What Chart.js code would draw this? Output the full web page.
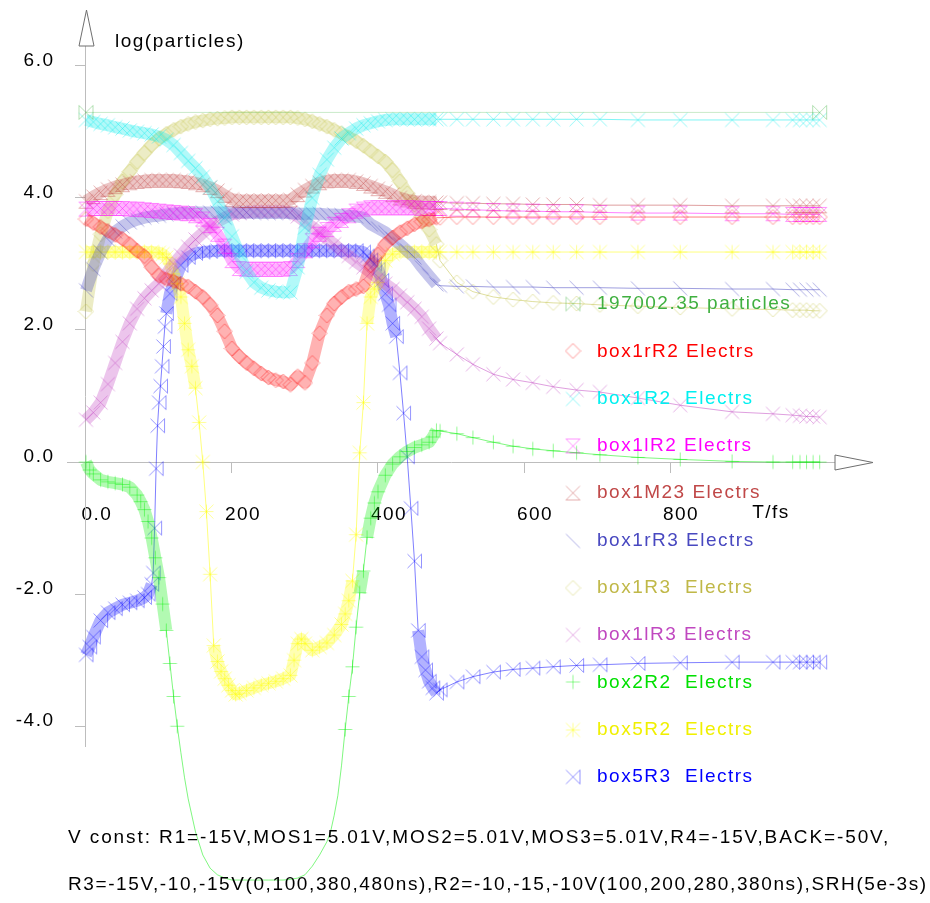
<!DOCTYPE html>
<html><head><meta charset="utf-8">
<script src="https://cdn.jsdelivr.net/npm/chart.js@4.4.1/dist/chart.umd.min.js"></script>
<style>html,body{margin:0;padding:0;background:#fff;}canvas{display:block;}</style>
</head><body>
<canvas id="c" width="930" height="903"></canvas>
<script>
// ---------------- DATA ----------------
const xTicks = [0, 200, 400, 600, 800];
const xTickLabels = ['0.0', '200', '400', '600', '800'];
const yTicks = [-4, -2, 0, 2, 4, 6];
const yTickLabels = ['-4.0', '-2.0', '0.0', '2.0', '4.0', '6.0'];
const yTitle = 'log(particles)';
const xTitle = 'T/fs';
const seriesNames = ['197002.35 particles', 'box1rR2 Electrs', 'box1R2  Electrs', 'box1lR2 Electrs',
  'box1M23 Electrs', 'box1rR3 Electrs', 'box1R3  Electrs', 'box1lR3 Electrs', 'box2R2  Electrs',
  'box5R2  Electrs', 'box5R3  Electrs'];
const note1 = 'V const: R1=-15V,MOS1=5.01V,MOS2=5.01V,MOS3=5.01V,R4=-15V,BACK=-50V,';
const note2 = 'R3=-15V,-10,-15V(0,100,380,480ns),R2=-10,-15,-10V(100,200,280,380ns),SRH(5e-3s)';

const tBase = [0,10,20,30,40,50,60,70,80,90,100,110,120,130,140,150,160,170,180,190,200,210,220,230,240,
  250,260,270,280,290,300,310,320,330,340,350,360,370,380,390,400,410,420,430,440,450,460,470,480];
const tTail = [485,508,530,558,585,612,640,672,704,756,814,885,941,968,978,987,996,1005];

const tTotal = [0, 1005];
const vTotal = [5.294, 5.294];

const vBox1rR2 = [3.68,3.62,3.56,3.5,3.44,3.38,3.3,3.2,3.12,2.95,
  2.82,2.77,2.74,2.7,2.66,2.58,2.5,2.38,2.22,1.98,
  1.72,1.6,1.5,1.42,1.34,1.28,1.24,1.22,1.17,1.3,
  1.2,1.5,1.95,2.22,2.4,2.5,2.58,2.62,2.66,2.98,
  3.14,3.3,3.4,3.48,3.54,3.6,3.64,3.67,3.7,
  3.7,3.71,3.71,3.71,3.71,3.71,3.71,3.71,3.71,3.71,3.71,3.71,3.71,3.71,3.71,3.71,3.71,3.71];

const vBox1R2 = [5.18,5.15,5.12,5.1,5.07,5.05,5.02,5.0,4.98,4.96,
  4.93,4.88,4.8,4.68,4.56,4.45,4.32,4.16,3.95,3.7,
  3.42,3.15,2.88,2.72,2.64,2.6,2.58,2.57,2.57,2.95,
  3.55,4.0,4.35,4.58,4.76,4.9,4.98,5.05,5.1,5.13,
  5.16,5.18,5.19,5.19,5.19,5.19,5.19,5.19,5.19,
  5.19,5.19,5.19,5.19,5.19,5.19,5.19,5.19,5.19,5.18,5.18,5.18,5.18,5.18,5.18,5.18,5.18,5.18];

const vBox1lR2 = [3.83,3.84,3.84,3.84,3.84,3.84,3.83,3.83,3.82,3.81,
  3.8,3.79,3.78,3.77,3.76,3.73,3.68,3.58,3.45,3.27,
  3.05,2.93,2.92,2.92,2.92,2.92,2.92,2.92,2.93,3.05,
  3.2,3.35,3.45,3.52,3.6,3.66,3.73,3.8,3.83,3.85,
  3.85,3.85,3.85,3.85,3.85,3.85,3.84,3.84,3.84,
  3.84,3.83,3.82,3.81,3.8,3.8,3.79,3.79,3.78,3.77,3.77,3.76,3.76,3.75,3.75,3.75,3.75,3.75];

const vBox1M23 = [3.95,4.02,4.08,4.13,4.17,4.2,4.23,4.25,4.26,4.27,
  4.27,4.27,4.27,4.26,4.25,4.23,4.2,4.16,4.11,4.04,
  3.98,3.96,3.96,3.96,3.96,3.96,3.96,3.96,3.97,4.05,
  4.12,4.18,4.23,4.26,4.27,4.27,4.27,4.25,4.22,4.18,
  4.14,4.1,4.05,4.0,3.97,3.95,3.94,3.94,3.93,
  3.93,3.92,3.92,3.91,3.91,3.9,3.9,3.9,3.89,3.89,3.89,3.88,3.88,3.88,3.88,3.88,3.88,3.88];

const vBox1rR3 = [2.6,2.92,3.18,3.37,3.49,3.57,3.63,3.67,3.7,3.72,
  3.73,3.75,3.76,3.77,3.77,3.78,3.78,3.78,3.78,3.78,
  3.78,3.78,3.78,3.77,3.77,3.77,3.77,3.77,3.77,3.76,
  3.76,3.76,3.76,3.75,3.75,3.74,3.73,3.72,3.7,3.6,
  3.54,3.48,3.38,3.3,3.2,3.1,2.95,2.82,2.69,
  2.67,2.66,2.66,2.65,2.65,2.65,2.64,2.64,2.64,2.63,2.63,2.62,2.62,2.61,2.61,2.61,2.61,2.61];

const vBox1R3 = [2.28,3.0,3.45,3.8,4.05,4.25,4.4,4.55,4.68,4.8,
  4.9,4.97,5.03,5.08,5.12,5.15,5.17,5.19,5.2,5.21,
  5.22,5.22,5.22,5.22,5.22,5.22,5.22,5.22,5.22,5.21,
  5.19,5.16,5.12,5.08,5.03,4.98,4.92,4.86,4.79,4.71,
  4.63,4.55,4.42,4.25,4.07,3.9,3.72,3.52,3.3,
  3.05,2.72,2.58,2.5,2.46,2.43,2.41,2.4,2.38,2.36,2.34,2.32,2.31,2.3,2.3,2.3,2.29,2.29];

const vBox1lR3 = [0.64,0.75,0.9,1.18,1.5,1.82,2.1,2.32,2.48,2.6,
  2.7,2.85,3.0,3.13,3.26,3.37,3.47,3.56,3.64,3.7,
  3.75,3.77,3.78,3.79,3.79,3.79,3.79,3.79,3.78,3.72,
  3.64,3.56,3.48,3.38,3.3,3.2,3.12,3.03,2.95,2.87,
  2.78,2.7,2.62,2.52,2.42,2.32,2.2,2.02,1.87,
  1.8,1.63,1.48,1.33,1.25,1.2,1.14,1.09,1.06,0.97,0.86,0.76,0.73,0.71,0.7,0.69,0.69,0.68];

const tBox2R2 = [0,5,10,20,30,40,50,60,70,75,80,85,90,95,100,105,110,115,120,125,130,135,140,
  150,160,170,180,190,200,210,220,230,240,250,260,270,280,290,300,310,320,330,
  335,340,345,350,355,360,365,370,375,380,385,390,395,400,410,420,430,440,450,460,470,475,480];
const vBox2R2 = [0.0,-0.12,-0.18,-0.27,-0.3,-0.32,-0.34,-0.38,-0.5,-0.6,-0.72,-0.9,-1.15,-1.45,-1.75,
  -2.15,-2.55,-3.05,-3.55,-4.0,-4.4,-4.78,-5.1,
  -5.6,-5.95,-6.15,-6.25,-6.3,-6.33,-6.33,-6.33,-6.33,-6.33,-6.33,-6.33,-6.33,-6.32,-6.3,-6.25,-6.12,-5.95,-5.75,
  -5.6,-5.35,-5.05,-4.6,-4.05,-3.55,-3.1,-2.5,-1.98,-1.65,-1.14,-0.85,-0.62,-0.45,
  -0.2,-0.03,0.08,0.16,0.22,0.26,0.3,0.38,0.48];
const vBox2R2Tail = [0.47,0.43,0.37,0.3,0.24,0.2,0.17,0.14,0.11,0.07,0.04,0.01,0.0,0.0,0.0,0.0,0.0,0.0];

const tBox5R2 = [0,10,20,30,40,50,60,70,80,90,100,105,110,115,120,125,130,135,140,145,150,155,160,165,170,
  175,180,185,190,195,200,205,210,220,230,240,250,260,270,280,285,290,295,300,310,320,330,340,350,
  355,360,365,370,375,380,385,390,395,400,410,420,430,440,450,460,470,480];
const vBox5R2 = [3.18,3.18,3.18,3.18,3.18,3.18,3.18,3.18,3.18,3.18,3.17,
  3.15,3.1,3.0,2.85,2.7,2.5,2.1,1.7,1.45,1.12,0.6,0.0,-0.75,-1.7,-2.78,-3.02,-3.17,-3.28,-3.38,-3.46,-3.52,
  -3.5,-3.46,-3.42,-3.38,-3.35,-3.32,-3.28,-3.23,
  -3.0,-2.75,-2.68,-2.75,
  -2.85,-2.8,-2.74,-2.62,-2.46,
  -2.3,-2.1,-1.8,-1.1,0.14,0.9,2.1,2.5,2.62,2.72,
  3.05,3.15,3.19,3.18,3.18,3.18,3.18,3.18];
const vBox5R2Tail = [3.18,3.18,3.18,3.18,3.18,3.18,3.18,3.18,3.18,3.18,3.18,3.18,3.18,3.18,3.18,3.18,3.18,3.18];

const tBox5R3 = [0,5,10,20,30,40,50,60,70,80,85,90,92,94,96,98,100,102,104,106,108,110,115,120,
  130,140,150,160,170,180,190,200,210,220,230,240,250,260,270,280,290,300,310,320,330,340,350,360,370,380,
  385,390,395,400,405,410,415,420,425,430,435,440,445,450,455,460,465,470,475,480];
const vBox5R3 = [-2.92,-2.8,-2.65,-2.4,-2.28,-2.22,-2.16,-2.13,-2.1,-2.05,-2.0,-1.85,
  -1.68,-1.0,-0.1,0.55,0.9,1.15,1.45,1.75,2.05,2.25,2.55,2.7,
  2.98,3.1,3.16,3.18,3.19,3.2,3.2,3.2,3.2,3.2,3.2,3.2,3.2,3.2,3.2,3.2,3.2,3.2,3.2,3.2,3.2,3.2,3.2,3.2,3.2,3.18,
  3.12,3.06,3.0,2.92,2.75,2.55,2.38,2.1,1.9,1.35,0.74,0.08,-0.7,-1.5,-2.55,-2.95,-3.15,-3.32,-3.42,-3.5];
const vBox5R3Tail = [-3.45,-3.33,-3.25,-3.18,-3.14,-3.12,-3.1,-3.08,-3.07,-3.05,-3.04,-3.03,-3.03,-3.03,-3.03,-3.03,-3.03,-3.03];

// ---------------- STYLE ----------------
const FONT = "'Liberation Sans', Arial, Helvetica, sans-serif";
const LS = '1.5px';
const AXIS = '#bdbdbd';
const ARROW = '#6e6e6e';
const X_MIN = -26, X_MAX = 1026, Y_MIN = -4.3, Y_MAX = 6.3;
const rgb = [[40,170,40],[255,0,0],[0,235,235],[255,0,255],[192,64,64],[64,64,192],[192,192,64],[192,64,192],[0,240,0],[255,255,0],[0,0,255]];
const textColors = ['#40b040','#ff0000','#00f0f0','#ff00ff','#c04848','#4848c0','#c0b848','#c048c0','#00e000','#f0f000','#0000ff'];
const shapes = ['xbars','diamond','x','hourglass','xbot','bslash','diamond','x','plus','star','xright'];
const BAND_END = 480;      // dense-sampling region drawn as a band
const BAND_SLOPE = 5.5;    // px per fs above which the trace shows separate markers

function marker(shape, c, a) {
  const h = shape === 'diamond' ? 7.5 : 7;
  const s = 17;
  const cv = document.createElement('canvas'); cv.width = s; cv.height = s;
  const g = cv.getContext('2d'); const m = s / 2;
  g.strokeStyle = `rgba(${c[0]},${c[1]},${c[2]},${a})`; g.lineWidth = 1; g.beginPath();
  const X = () => { g.moveTo(m-h,m-h); g.lineTo(m+h,m+h); g.moveTo(m+h,m-h); g.lineTo(m-h,m+h); };
  switch (shape) {
    case 'x': X(); break;
    case 'diamond': g.moveTo(m,m-h); g.lineTo(m+h,m); g.lineTo(m,m+h); g.lineTo(m-h,m); g.closePath(); break;
    case 'plus': g.moveTo(m-h,m); g.lineTo(m+h,m); g.moveTo(m,m-h); g.lineTo(m,m+h); break;
    case 'star': X(); g.moveTo(m-h,m); g.lineTo(m+h,m); g.moveTo(m,m-h); g.lineTo(m,m+h); break;
    case 'hourglass': X(); g.moveTo(m-h,m-h); g.lineTo(m+h,m-h); g.moveTo(m-h,m+h); g.lineTo(m+h,m+h); break;
    case 'xbot': X(); g.moveTo(m-h,m+h); g.lineTo(m+h,m+h); break;
    case 'xright': X(); g.moveTo(m+h,m-h); g.lineTo(m+h,m+h); break;
    case 'xbars': X(); g.moveTo(m-h,m-h); g.lineTo(m-h,m+h); g.moveTo(m+h,m-h); g.lineTo(m+h,m+h); break;
    case 'bslash': g.moveTo(m-h,m-h); g.lineTo(m+h,m+h); break;
  }
  g.stroke();
  return cv;
}
const markers = shapes.map((s, i) => marker(s, rgb[i], i === 0 ? 0.35 : 0.42));

function pts(t, v) { return t.map((x, i) => ({ x, y: v[i] })); }
const seriesData = [
  pts(tTotal, vTotal),
  pts(tBase.concat(tTail), vBox1rR2),
  pts(tBase.concat(tTail), vBox1R2),
  pts(tBase.concat(tTail), vBox1lR2),
  pts(tBase.concat(tTail), vBox1M23),
  pts(tBase.concat(tTail), vBox1rR3),
  pts(tBase.concat(tTail), vBox1R3),
  pts(tBase.concat(tTail), vBox1lR3),
  pts(tBox2R2.concat(tTail), vBox2R2.concat(vBox2R2Tail)),
  pts(tBox5R2.concat(tTail), vBox5R2.concat(vBox5R2Tail)),
  pts(tBox5R3.concat(tTail), vBox5R3.concat(vBox5R3Tail))
];

function isBand(sc) {
  const dt = sc.p1.parsed.x - sc.p0.parsed.x;
  if (sc.p1.parsed.x > BAND_END || dt <= 0) return false;
  if (sc.p0.parsed.y < Y_MIN || sc.p1.parsed.y < Y_MIN) return false;
  return Math.abs(sc.p1.y - sc.p0.y) / dt <= BAND_SLOPE;
}

const datasets = seriesData.map((d, i) => {
  const c = rgb[i];
  const thin = `rgba(${c[0]},${c[1]},${c[2]},${i === 0 ? 0.25 : 0.5})`;
  const band = `rgba(${c[0]},${c[1]},${c[2]},0.3)`;
  return {
    label: seriesNames[i],
    data: d,
    borderColor: thin,
    borderWidth: 1,
    segment: i === 0 ? undefined : {
      borderWidth: sc => isBand(sc) ? 12 : 1,
      borderColor: sc => isBand(sc) ? band : thin
    },
    borderJoinStyle: 'round',
    pointStyle: markers[i],
    pointRadius: 5,
    tension: 0,
    fill: false,
    clip: false
  };
});

const overlay = {
  id: 'overlay',
  beforeDraw(chart) { chart.ctx.letterSpacing = LS; },
  afterDraw(chart) {
    const ctx = chart.ctx;
    const xs = chart.scales.x, ys = chart.scales.y;
    const ax = Math.round(xs.getPixelForValue(0)) + 0.5;
    const ay = Math.round(ys.getPixelForValue(0)) + 0.5;
    const top = chart.chartArea.top, right = chart.chartArea.right;
    ctx.save();
    ctx.lineWidth = 1; ctx.strokeStyle = ARROW; ctx.fillStyle = '#fff';
    ctx.beginPath(); ctx.moveTo(ax, top - 36); ctx.lineTo(ax + 7.5, top); ctx.lineTo(ax - 7.5, top); ctx.closePath(); ctx.fill(); ctx.stroke();
    ctx.beginPath(); ctx.moveTo(right + 38, ay); ctx.lineTo(right, ay - 7.5); ctx.lineTo(right, ay + 7.5); ctx.closePath(); ctx.fill(); ctx.stroke();
    ctx.font = `19px ${FONT}`; ctx.letterSpacing = LS;
    ctx.fillStyle = '#000';
    // y tick labels, placed from the y scale
    ctx.textAlign = 'right'; ctx.textBaseline = 'middle';
    yTicks.forEach((v, i) => ctx.fillText(yTickLabels[i], ax - 32, ys.getPixelForValue(v) - 5));
    ctx.textAlign = 'left'; ctx.textBaseline = 'alphabetic';
    ctx.fillText(yTitle, 115, 47);
    ctx.textAlign = 'center'; ctx.textBaseline = 'middle';
    ctx.fillText(xTitle, 771, 513);
    ctx.textAlign = 'left';
    seriesNames.forEach((name, i) => {
      const y = 304 + i * 47.3;
      const mk = markers[i];
      ctx.drawImage(mk, 573 - mk.width / 2, Math.round(y) - mk.height / 2);
      ctx.fillStyle = textColors[i];
      ctx.fillText(name, 597, y);
    });
    ctx.fillStyle = '#000'; ctx.textBaseline = 'alphabetic';
    ctx.letterSpacing = '1.9px';
    ctx.fillText(note1, 68, 843);
    ctx.letterSpacing = '1.6px';
    ctx.fillText(note2, 68, 890);
    ctx.restore();
  }
};

Chart.defaults.font.family = FONT;
Chart.defaults.font.size = 19;
Chart.defaults.color = '#000';

new Chart(document.getElementById('c'), {
  type: 'line',
  data: { datasets },
  options: {
    responsive: false, animation: false, devicePixelRatio: 1, events: [],
    layout: { padding: { left: 67, right: 95, top: 46, bottom: 157 } },
    plugins: { legend: { display: false }, tooltip: { enabled: false }, title: { display: false } },
    scales: {
      x: {
        type: 'linear', position: { y: 0 }, min: X_MIN, max: X_MAX,
        afterBuildTicks: s => { s.ticks = xTicks.map(v => ({ value: v })); },
        ticks: { callback: v => xTickLabels[xTicks.indexOf(v)], autoSkip: false, maxRotation: 0, minRotation: 0, padding: 31, labelOffset: 11, color: '#000' },
        grid: { drawOnChartArea: false, drawTicks: true, tickLength: 10, color: AXIS },
        border: { display: true, color: AXIS, width: 1 }
      },
      y: {
        type: 'linear', position: { x: 0 }, min: Y_MIN, max: Y_MAX,
        afterBuildTicks: s => { s.ticks = yTicks.map(v => ({ value: v })); },
        ticks: { display: false },
        grid: { drawOnChartArea: false, drawTicks: true, tickLength: 10, color: AXIS },
        border: { display: true, color: AXIS, width: 1 }
      }
    }
  },
  plugins: [overlay]
});
</script>
</body></html>
